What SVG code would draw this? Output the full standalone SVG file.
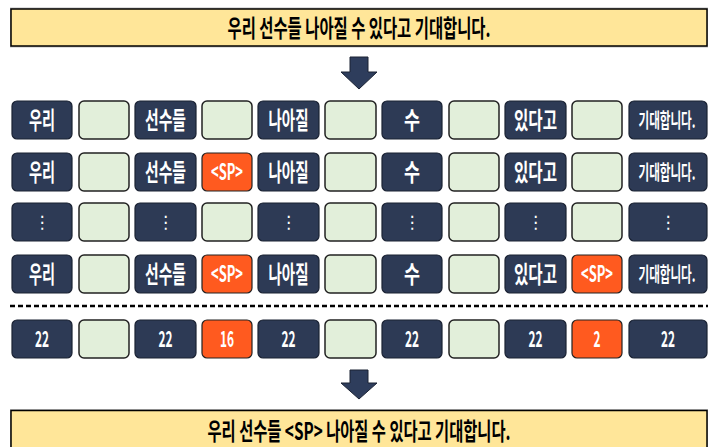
<svg xmlns="http://www.w3.org/2000/svg" width="717" height="447" viewBox="0 0 717 447">
<defs>
<style>
.d{fill:#2D3A55;stroke:#1a2233;stroke-width:1.2}
.l{fill:#E2EFDA;stroke:#222;stroke-width:1.5}
.o{fill:#FF5A1F;stroke:#222;stroke-width:1.2}
.t{font-family:"Noto Sans CJK KR","Noto Sans",sans-serif;font-weight:700;font-size:24px;fill:#fff;text-anchor:middle}
.s{font-size:20px}
.n{font-size:22px}
.v{font-family:"DejaVu Sans",sans-serif;font-size:17px;fill:#fff;text-anchor:middle}
.h{font-family:"Noto Sans CJK KR","Noto Sans",sans-serif;font-weight:700;font-size:24px;fill:#000;text-anchor:middle}
.b{fill:#FFE699;stroke:#000;stroke-width:1.5}
.a{fill:#2E3D5C;stroke:#1a2233;stroke-width:1}
</style>
</defs>
<rect width="717" height="447" fill="#fff"/>

<g id="top">
<rect x="10" y="7.5" width="698" height="40" fill="#bdbdbd"/>
<rect x="11" y="9" width="696" height="37" class="b"/>
<text x="359" y="37" class="h" textLength="263" lengthAdjust="spacingAndGlyphs">우리 선수들 나아질 수 있다고 기대합니다.</text>
</g>

<g id="connectors">
<path class="a" d="M350 57 H368 V72 H377 L359 89 L341 72 H350 Z"/>
<path class="a" d="M350 370 H368 V383 H377 L359 399 L341 383 H350 Z"/>
<line x1="10" y1="306" x2="708" y2="306" stroke="#000" stroke-width="2.5" stroke-dasharray="5,3"/>
</g>

<!-- Row 1 -->
<g id="r1c1"><rect x="12" y="101" width="60" height="38" rx="5" class="d"/><text x="42" y="129" class="t" textLength="26" lengthAdjust="spacingAndGlyphs">우리</text></g>
<g id="r1c2"><rect x="79" y="101" width="50" height="38" rx="5" class="l"/></g>
<g id="r1c3"><rect x="135" y="101" width="61" height="38" rx="5" class="d"/><text x="165.5" y="129" class="t" textLength="41" lengthAdjust="spacingAndGlyphs">선수들</text></g>
<g id="r1c4"><rect x="202" y="101" width="50" height="38" rx="5" class="l"/></g>
<g id="r1c5"><rect x="258" y="101" width="61" height="38" rx="5" class="d"/><text x="288.5" y="129" class="t" textLength="40" lengthAdjust="spacingAndGlyphs">나아질</text></g>
<g id="r1c6"><rect x="325" y="101" width="51" height="38" rx="5" class="l"/></g>
<g id="r1c7"><rect x="382" y="101" width="60" height="38" rx="5" class="d"/><text x="412" y="129" class="t" textLength="16" lengthAdjust="spacingAndGlyphs">수</text></g>
<g id="r1c8"><rect x="449" y="101" width="50" height="38" rx="5" class="l"/></g>
<g id="r1c9"><rect x="505" y="101" width="61" height="38" rx="5" class="d"/><text x="535.5" y="129" class="t" textLength="43" lengthAdjust="spacingAndGlyphs">있다고</text></g>
<g id="r1c10"><rect x="572" y="101" width="50" height="38" rx="5" class="l"/></g>
<g id="r1c11"><rect x="629" y="101" width="78" height="38" rx="5" class="d"/><text transform="translate(667,128) scale(0.58,1)" class="t s">기대합니다.</text></g>

<!-- Row 2 -->
<g id="r2c1"><rect x="12" y="153" width="60" height="38" rx="5" class="d"/><text x="42" y="181" class="t" textLength="26" lengthAdjust="spacingAndGlyphs">우리</text></g>
<g id="r2c2"><rect x="79" y="153" width="50" height="38" rx="5" class="l"/></g>
<g id="r2c3"><rect x="135" y="153" width="61" height="38" rx="5" class="d"/><text x="165.5" y="181" class="t" textLength="41" lengthAdjust="spacingAndGlyphs">선수들</text></g>
<g id="r2c4"><rect x="202" y="153" width="50" height="38" rx="5" class="o"/><text x="227" y="180" class="t n" textLength="32" lengthAdjust="spacingAndGlyphs">&lt;SP&gt;</text></g>
<g id="r2c5"><rect x="258" y="153" width="61" height="38" rx="5" class="d"/><text x="288.5" y="181" class="t" textLength="40" lengthAdjust="spacingAndGlyphs">나아질</text></g>
<g id="r2c6"><rect x="325" y="153" width="51" height="38" rx="5" class="l"/></g>
<g id="r2c7"><rect x="382" y="153" width="60" height="38" rx="5" class="d"/><text x="412" y="181" class="t" textLength="16" lengthAdjust="spacingAndGlyphs">수</text></g>
<g id="r2c8"><rect x="449" y="153" width="50" height="38" rx="5" class="l"/></g>
<g id="r2c9"><rect x="505" y="153" width="61" height="38" rx="5" class="d"/><text x="535.5" y="181" class="t" textLength="43" lengthAdjust="spacingAndGlyphs">있다고</text></g>
<g id="r2c10"><rect x="572" y="153" width="50" height="38" rx="5" class="l"/></g>
<g id="r2c11"><rect x="629" y="153" width="78" height="38" rx="5" class="d"/><text transform="translate(667,180) scale(0.58,1)" class="t s">기대합니다.</text></g>

<!-- Row 3 -->
<g id="r3c1"><rect x="12" y="203" width="60" height="38" rx="5" class="d"/><text x="42" y="228" class="v">⋮</text></g>
<g id="r3c2"><rect x="79" y="203" width="50" height="38" rx="5" class="l"/></g>
<g id="r3c3"><rect x="135" y="203" width="61" height="38" rx="5" class="d"/><text x="165.5" y="228" class="v">⋮</text></g>
<g id="r3c4"><rect x="202" y="203" width="50" height="38" rx="5" class="l"/></g>
<g id="r3c5"><rect x="258" y="203" width="61" height="38" rx="5" class="d"/><text x="288.5" y="228" class="v">⋮</text></g>
<g id="r3c6"><rect x="325" y="203" width="51" height="38" rx="5" class="l"/></g>
<g id="r3c7"><rect x="382" y="203" width="60" height="38" rx="5" class="d"/><text x="412" y="228" class="v">⋮</text></g>
<g id="r3c8"><rect x="449" y="203" width="50" height="38" rx="5" class="l"/></g>
<g id="r3c9"><rect x="505" y="203" width="61" height="38" rx="5" class="d"/><text x="535.5" y="228" class="v">⋮</text></g>
<g id="r3c10"><rect x="572" y="203" width="50" height="38" rx="5" class="l"/></g>
<g id="r3c11"><rect x="629" y="203" width="78" height="38" rx="5" class="d"/><text x="668" y="228" class="v">⋮</text></g>

<!-- Row 4 -->
<g id="r4c1"><rect x="12" y="255" width="60" height="38" rx="5" class="d"/><text x="42" y="283" class="t" textLength="26" lengthAdjust="spacingAndGlyphs">우리</text></g>
<g id="r4c2"><rect x="79" y="255" width="50" height="38" rx="5" class="l"/></g>
<g id="r4c3"><rect x="135" y="255" width="61" height="38" rx="5" class="d"/><text x="165.5" y="283" class="t" textLength="41" lengthAdjust="spacingAndGlyphs">선수들</text></g>
<g id="r4c4"><rect x="202" y="255" width="50" height="38" rx="5" class="o"/><text x="227" y="282" class="t n" textLength="32" lengthAdjust="spacingAndGlyphs">&lt;SP&gt;</text></g>
<g id="r4c5"><rect x="258" y="255" width="61" height="38" rx="5" class="d"/><text x="288.5" y="283" class="t" textLength="40" lengthAdjust="spacingAndGlyphs">나아질</text></g>
<g id="r4c6"><rect x="325" y="255" width="51" height="38" rx="5" class="l"/></g>
<g id="r4c7"><rect x="382" y="255" width="60" height="38" rx="5" class="d"/><text x="412" y="283" class="t" textLength="16" lengthAdjust="spacingAndGlyphs">수</text></g>
<g id="r4c8"><rect x="449" y="255" width="50" height="38" rx="5" class="l"/></g>
<g id="r4c9"><rect x="505" y="255" width="61" height="38" rx="5" class="d"/><text x="535.5" y="283" class="t" textLength="43" lengthAdjust="spacingAndGlyphs">있다고</text></g>
<g id="r4c10"><rect x="572" y="255" width="50" height="38" rx="5" class="o"/><text x="597" y="282" class="t n" textLength="32" lengthAdjust="spacingAndGlyphs">&lt;SP&gt;</text></g>
<g id="r4c11"><rect x="629" y="255" width="78" height="38" rx="5" class="d"/><text transform="translate(667,282) scale(0.58,1)" class="t s">기대합니다.</text></g>

<!-- Row 5 -->
<g id="r5c1"><rect x="12" y="320" width="60" height="38" rx="5" class="d"/><text x="42" y="347" class="t n" textLength="14" lengthAdjust="spacingAndGlyphs">22</text></g>
<g id="r5c2"><rect x="79" y="320" width="50" height="38" rx="5" class="l"/></g>
<g id="r5c3"><rect x="135" y="320" width="61" height="38" rx="5" class="d"/><text x="165.5" y="347" class="t n" textLength="14" lengthAdjust="spacingAndGlyphs">22</text></g>
<g id="r5c4"><rect x="202" y="320" width="50" height="38" rx="5" class="o"/><text x="227" y="347" class="t n" textLength="14" lengthAdjust="spacingAndGlyphs">16</text></g>
<g id="r5c5"><rect x="258" y="320" width="61" height="38" rx="5" class="d"/><text x="288.5" y="347" class="t n" textLength="14" lengthAdjust="spacingAndGlyphs">22</text></g>
<g id="r5c6"><rect x="325" y="320" width="51" height="38" rx="5" class="l"/></g>
<g id="r5c7"><rect x="382" y="320" width="60" height="38" rx="5" class="d"/><text x="412" y="347" class="t n" textLength="14" lengthAdjust="spacingAndGlyphs">22</text></g>
<g id="r5c8"><rect x="449" y="320" width="50" height="38" rx="5" class="l"/></g>
<g id="r5c9"><rect x="505" y="320" width="61" height="38" rx="5" class="d"/><text x="535.5" y="347" class="t n" textLength="14" lengthAdjust="spacingAndGlyphs">22</text></g>
<g id="r5c10"><rect x="572" y="320" width="50" height="38" rx="5" class="o"/><text x="597" y="347" class="t n" textLength="7" lengthAdjust="spacingAndGlyphs">2</text></g>
<g id="r5c11"><rect x="629" y="320" width="78" height="38" rx="5" class="d"/><text x="668" y="347" class="t n" textLength="14" lengthAdjust="spacingAndGlyphs">22</text></g>

<g id="bottom">
<rect x="10" y="409" width="698" height="50" fill="#bdbdbd"/>
<rect x="11" y="410.5" width="696" height="48" class="b"/>
<text x="359" y="440" class="h" textLength="303" lengthAdjust="spacingAndGlyphs">우리 선수들 &lt;SP&gt; 나아질 수 있다고 기대합니다.</text>
</g>
</svg>
